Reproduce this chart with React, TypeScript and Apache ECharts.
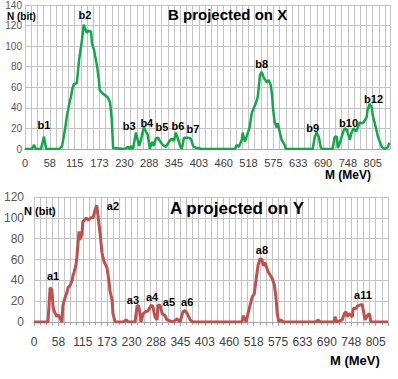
import React, { useEffect, useRef } from "react";
import * as echarts from "echarts";

// ---- data ----
const xTickLabels = ["0", "58", "115", "173", "230", "288", "345", "403", "460", "518", "575", "633", "690", "748", "805"];
const xTickStep = 57.5;

// Top chart: B projected on X
const bMeV = [0, 12, 16, 21, 25, 37, 44, 49, 79, 86, 88, 93, 97, 104, 106, 110, 113, 120, 125, 132, 136, 141, 143, 146, 153, 155, 160, 167, 171, 173, 180, 192, 197, 201, 204, 231, 238, 243, 245, 250, 257, 264, 268, 275, 280, 284, 289, 294, 298, 303, 308, 312, 319, 326, 335, 340, 345, 349, 354, 359, 363, 368, 377, 384, 389, 396, 402, 407, 486, 490, 495, 502, 504, 509, 513, 520, 525, 530, 534, 539, 544, 548, 553, 560, 564, 569, 572, 574, 578, 583, 585, 590, 594, 601, 604, 666, 671, 675, 680, 685, 689, 712, 717, 722, 724, 729, 736, 740, 745, 747, 752, 756, 761, 766, 770, 775, 779, 784, 791, 793, 798, 803, 805, 812, 817, 826, 833, 840, 844];
const bN = [0, 0, 0, 4, 0, 0, 12, 0, 0, 3, 8, 20, 32, 47, 50, 59, 63, 64, 86, 106, 121, 115, 113, 115, 114, 103, 96, 80, 67, 57, 54, 50, 45, 28, 1, 0, 2, 0, 3, 0, 16, 3, 8, 21, 17, 14, 0, 7, 3, 10, 11, 8, 4, 2, 8, 10, 8, 16, 10, 3, 0, 11, 11, 10, 3, 1, 1, 0, 0, 4, 2, 9, 16, 7, 12, 21, 35, 40, 44, 51, 72, 75, 69, 65, 67, 62, 52, 40, 26, 21, 25, 16, 9, 4, 0, 0, 12, 16, 12, 1, 0, 0, 12, 12, 1, 6, 16, 20, 19, 16, 9, 16, 20, 17, 20, 26, 25, 26, 31, 38, 44, 40, 33, 21, 12, 2, 0, 2, 6];

// Bottom chart: A projected on Y
const aMeV = [0, 33, 38, 42, 45, 49, 54, 57, 61, 66, 68, 73, 78, 80, 85, 90, 92, 94, 99, 101, 106, 108, 113, 115, 123, 127, 134, 139, 144, 148, 151, 156, 160, 165, 172, 177, 179, 184, 186, 191, 210, 217, 222, 238, 243, 247, 252, 257, 264, 269, 276, 280, 285, 290, 292, 297, 302, 309, 313, 328, 337, 344, 351, 356, 361, 368, 375, 490, 493, 500, 504, 509, 514, 519, 523, 528, 533, 537, 540, 544, 552, 561, 566, 570, 573, 577, 582, 587, 665, 669, 674, 707, 709, 714, 726, 731, 735, 738, 742, 750, 752, 759, 761, 766, 773, 775, 780, 785, 790, 794, 834];
const aN = [0, 0, 33, 31, 14, 9, 5, 7, 4, 0, 16, 23, 29, 33, 35, 40, 45, 47, 55, 62, 87, 79, 84, 96, 100, 98, 100, 100, 108, 112, 101, 84, 67, 58, 52, 38, 30, 21, 8, 0, 0, 2, 0, 0, 16, 15, 0, 8, 10, 11, 16, 15, 5, 2, 16, 16, 8, 6, 2, 0, 3, 0, 10, 11, 8, 2, 0, 0, 6, 0, 8, 16, 24, 27, 40, 55, 61, 60, 54, 57, 48, 42, 36, 24, 8, 0, 2, 0, 0, 2, 0, 0, 5, 0, 2, 8, 10, 5, 8, 5, 13, 13, 15, 16, 17, 13, 2, 6, 8, 0, 0];

// Peak annotations: name, MeV, N
const bPeakNames = ["b1", "b2", "b3", "b4", "b5", "b6", "b7", "b8", "b9", "b10", "b12"];
const bPeakMeV = [44, 139, 241, 282, 317, 354, 389, 548, 666, 749, 807];
const bPeakN = [23, 130, 22, 25, 21, 22, 19, 83, 20, 25, 48.5];

const aPeakNames = ["a1", "a2", "a3", "a4", "a5", "a6", "a8", "a11"];
const aPeakMeV = [45, 186, 233, 278, 318, 361, 537, 775];
const aPeakN = [44, 111, 21, 24, 19, 19, 69, 26];

const GRID = "#c4c4c4";
const FONT = "Liberation Sans, Arial, sans-serif";

function xLabel(v: number) {
  const i = Math.round(v / xTickStep);
  return Math.abs(i * xTickStep - v) < 0.01 ? xTickLabels[i] ?? "" : "";
}

export default function App() {
  const ref = useRef<HTMLDivElement>(null);
  useEffect(() => {
    if (!ref.current) return;
    const chart = echarts.init(ref.current, undefined, { renderer: "svg" });
    const mkX = (gridIndex: number, max: number, labelMargin: number, fs: number, ticks: boolean) => ({
      type: "value",
      gridIndex,
      min: 0,
      max,
      interval: xTickStep,
      axisLine: { show: true, lineStyle: { color: "#a6a6a6", width: 1 } },
      axisTick: { show: ticks, length: 4, lineStyle: { color: "#a6a6a6" } },
      minorTick: { show: ticks, splitNumber: 4, length: 3, lineStyle: { color: "#a6a6a6" } },
      splitLine: { show: true, lineStyle: { color: GRID, width: 1 } },
      minorSplitLine: { show: true, lineStyle: { color: GRID, width: 1 } },
      axisLabel: {
        formatter: xLabel,
        margin: labelMargin,
        fontSize: fs,
        color: "#404040",
        fontFamily: FONT,
        showMaxLabel: false,
      },
    });
    const mkY = (gridIndex: number, max: number, margin: number, fs: number) => ({
      type: "value",
      gridIndex,
      min: 0,
      max,
      interval: 20,
      axisLine: { show: false },
      axisTick: { show: false },
      splitLine: { show: true, lineStyle: { color: GRID, width: 1 } },
      axisLabel: { margin, fontSize: fs, lineHeight: fs, color: "#595959", fontFamily: FONT },
    });
    const peakMarks = (names: string[], xs: number[], ys: number[]) => ({
      symbol: "circle",
      symbolSize: 0,
      silent: true,
      label: {
        show: true,
        position: "inside",
        formatter: (p: any) => p.name,
        fontSize: 11,
        fontWeight: "bold",
        color: "#000",
        fontFamily: FONT,
      },
      data: names.map((n, i) => ({ name: n, coord: [xs[i], ys[i]] })),
    });
    chart.setOption({
      animation: false,
      backgroundColor: "#fff",
      title: [
        { text: "B projected on X", left: 168, top: 7, padding: 0, textStyle: { fontSize: 15, fontWeight: "bold", color: "#000", fontFamily: FONT } },
        { text: "A projected on Y", left: 170, top: 200, padding: 0, textStyle: { fontSize: 17, fontWeight: "bold", color: "#000", fontFamily: FONT } },
        { text: "N (bit)", left: 7, top: 11.5, padding: 0, textStyle: { fontSize: 10, lineHeight: 9, fontWeight: "bold", color: "#000", fontFamily: FONT } },
        { text: "N (bit)", left: 24, top: 205.5, padding: 0, textStyle: { fontSize: 11, lineHeight: 11, fontWeight: "bold", color: "#000", fontFamily: FONT } },
        { text: "M (MeV)", left: 325, top: 169, padding: 0, textStyle: { fontSize: 12, fontWeight: "bold", color: "#000", fontFamily: FONT } },
        { text: "M (MeV)", left: 330, top: 354, padding: 0, textStyle: { fontSize: 13, fontWeight: "bold", color: "#000", fontFamily: FONT } },
      ],
      grid: [
        { left: 25, top: 5, width: 365, height: 144, containLabel: false },
        { left: 34, top: 197, width: 354, height: 125, containLabel: false },
      ],
      xAxis: [mkX(0, 845, 8, 11, false), mkX(1, 834, 14, 12, true)],
      yAxis: [mkY(0, 140, 3, 10), mkY(1, 120, 10, 12)],
      series: [
        {
          type: "line",
          xAxisIndex: 0,
          yAxisIndex: 0,
          data: bMeV.map((x, i) => [x, bN[i]]),
          showSymbol: false,
          lineStyle: { color: "#12a84a", width: 2.5 },
          itemStyle: { color: "#12a84a" },
          markPoint: peakMarks(bPeakNames, bPeakMeV, bPeakN),
        },
        {
          type: "line",
          xAxisIndex: 1,
          yAxisIndex: 1,
          data: aMeV.map((x, i) => [x, aN[i]]),
          showSymbol: false,
          lineStyle: { color: "#c0504d", width: 3 },
          itemStyle: { color: "#c0504d" },
          markPoint: peakMarks(aPeakNames, aPeakMeV, aPeakN),
        },
      ],
    });
    return () => chart.dispose();
  }, []);
  return <div ref={ref} style={{ position: "fixed", left: 0, top: 0, width: 398, height: 379 }} />;
}
